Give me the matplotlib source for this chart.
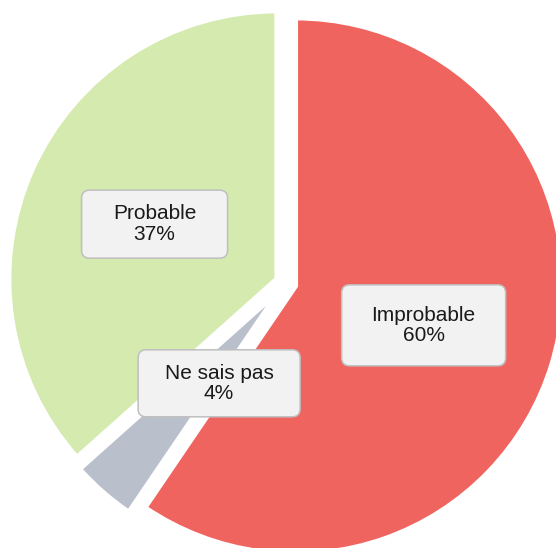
import numpy as np
import matplotlib.pyplot as plt
from matplotlib.patches import FancyBboxPatch

# data
categories = ["Improbable", "Ne sais pas", "Probable"]
shares = [59.5, 3.9, 36.6]
pct_labels = ["60%", "4%", "37%"]
colors = ["#f0645f", "#b9c0cb", "#d4eaae"]

W, H = 556, 548
fig = plt.figure(figsize=(W / 100, H / 100), dpi=100)
ax = fig.add_axes([0, 0, 1, 1])
ax.set_xlim(0, W)
ax.set_ylim(0, H)          # pixel units, y up
ax.set_aspect("equal")
ax.axis("off")

cx, cy = 286, H - 283
R = 268
gap = 10

wedges, _ = ax.pie(shares, colors=colors, startangle=90, counterclock=False,
                   radius=R, center=(cx, cy), explode=[gap] * len(shares),
                   wedgeprops=dict(edgecolor="white", linewidth=3.6))
ax.set_xlim(0, W)
ax.set_ylim(0, H)

# label boxes: placed along slice bisector, small slice nudged
label_r = 144
nudge = [(0, 0), (28, 8), (0, 0)]
box_size = [(164, 81), (162, 67), (146, 68)]

for w, cat, pct, (dx, dy), (bw, bh) in zip(wedges, categories, pct_labels, nudge, box_size):
    mid = np.deg2rad(0.5 * (w.theta1 + w.theta2))
    lx = cx + label_r * np.cos(mid) + dx
    ly = cy + label_r * np.sin(mid) + dy
    box = FancyBboxPatch((lx - bw / 2, ly - bh / 2), bw, bh,
                         boxstyle="round,pad=0,rounding_size=8",
                         facecolor="#f2f2f2", edgecolor="#bfbfbf",
                         linewidth=1.1, zorder=3)
    ax.add_patch(box)
    ax.text(lx, ly, f"{cat}\n{pct}", ha="center", va="center",
            fontsize=15, family="Liberation Sans", color="#1a1a1a",
            linespacing=1.1, zorder=4)

fig.savefig("out.png", dpi=100)
